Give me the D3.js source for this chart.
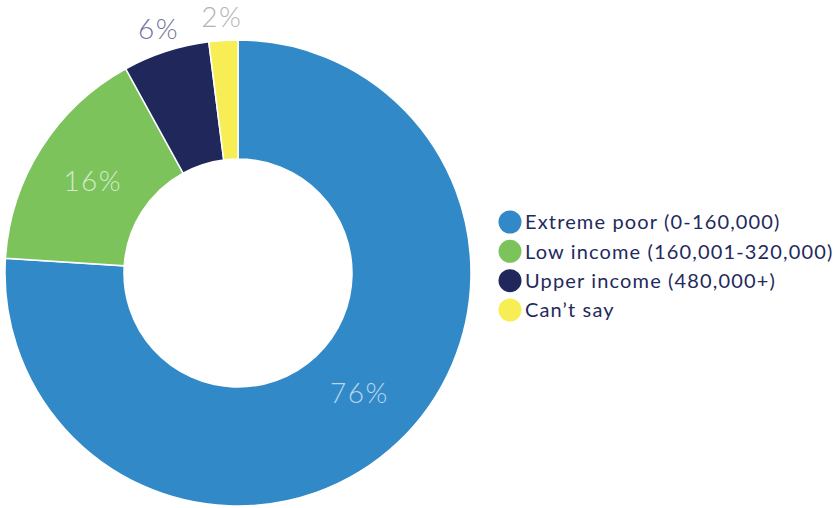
<!DOCTYPE html>
<html>
<head>
<meta charset="utf-8">
<script src="https://cdn.jsdelivr.net/npm/d3@7"></script>
<style>
  html, body { margin: 0; padding: 0; background: #fff; }
  svg { display: block; }
  text { font-family: Lato, "Open Sans", sans-serif; }
</style>
</head>
<body>
<svg id="chart" width="840" height="508"></svg>
<script>
// Income group shares
const categories = ["Extreme poor (0-160,000)", "Low income (160,001-320,000)", "Upper income (480,000+)", "Can\u2019t say"];
const values = [76, 16, 6, 2];
const colors = ["#3189c8", "#7dc35b", "#20285b", "#f7ee55"];
const labelColors = ["#b9d6ec", "#d3ebc9", "#6f7598", "#b4b4b4"];

const svg = d3.select("#chart");
const cx = 238, cy = 273, outerR = 233, innerR = 114;

const pie = d3.pie().sort(null).value(d => d.value);
const arcs = pie(categories.map((c, i) => ({ name: c, value: values[i], i })));
const arc = d3.arc().innerRadius(innerR).outerRadius(outerR);

const g = svg.append("g").attr("transform", `translate(${cx},${cy})`);

g.selectAll("path.slice")
  .data(arcs)
  .join("path")
  .attr("class", "slice")
  .attr("d", arc)
  .attr("fill", d => colors[d.data.i])
  .attr("stroke", "#fff")
  .attr("stroke-width", 1.5);

// Percentage labels: big slices inside the ring, small slices above it
const labelPos = [
  { r: 170, shift: [5, -4] },
  { r: 172, shift: [0, 0] },
  { r: 257, shift: [0, 0] },
  { r: 257, shift: [0, 0] }
];
g.selectAll("text.pct")
  .data(arcs)
  .join("text")
  .attr("class", "pct")
  .attr("x", d => {
    const a = (d.startAngle + d.endAngle) / 2;
    return Math.sin(a) * labelPos[d.data.i].r + labelPos[d.data.i].shift[0];
  })
  .attr("y", d => {
    const a = (d.startAngle + d.endAngle) / 2;
    return -Math.cos(a) * labelPos[d.data.i].r + labelPos[d.data.i].shift[1];
  })
  .attr("dy", "0.36em")
  .attr("text-anchor", "middle")
  .attr("font-size", 28)
  .attr("font-weight", 300)
  .attr("letter-spacing", 1.5)
  .attr("fill", d => labelColors[d.data.i])
  .text(d => d.data.value + "%");

// Legend
const legend = svg.append("g").attr("transform", "translate(510,222)");
const rowY = d3.scalePoint().domain(categories).range([0, 88]);
const rows = legend.selectAll("g.row")
  .data(categories)
  .join("g")
  .attr("class", "row")
  .attr("transform", d => `translate(0,${rowY(d)})`);
rows.append("circle")
  .attr("r", 11.5)
  .attr("fill", (d, i) => colors[i]);
rows.append("text")
  .attr("x", 15)
  .attr("dy", "0.36em")
  .attr("font-size", 20)
  .attr("letter-spacing", 1.15)
  .attr("fill", "#1f2a5c")
  .text(d => d);
</script>
</body>
</html>
